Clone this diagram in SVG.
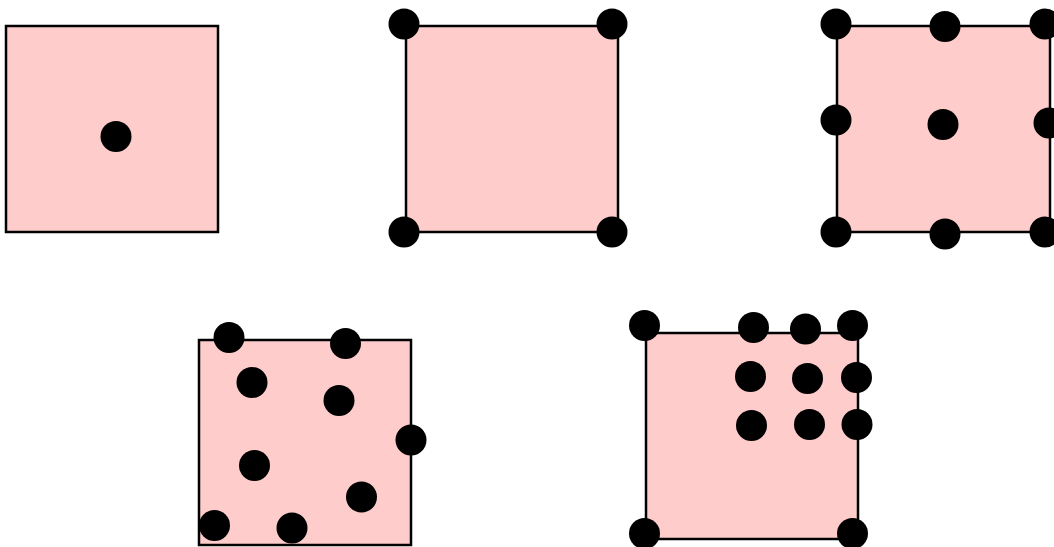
<svg xmlns="http://www.w3.org/2000/svg" width="1054" height="547" viewBox="0 0 1054 547">
<style>
.box{fill:#ffcccc;stroke:#000;stroke-width:2.5}
.pt{fill:#000}
</style>
<rect width="1054" height="547" fill="#fff"/>
<g id="connectors"></g>
<g id="square1">
<rect class="box" x="6" y="26" width="212" height="206"/>
<circle class="pt" cx="116" cy="136.5" r="15.5"/>
</g>
<g id="square2">
<rect class="box" x="406" y="26" width="212" height="206"/>
<circle class="pt" cx="404" cy="24" r="15.5"/>
<circle class="pt" cx="612" cy="24" r="15.5"/>
<circle class="pt" cx="404" cy="232" r="15.5"/>
<circle class="pt" cx="612" cy="232" r="15.5"/>
</g>
<g id="square3">
<rect class="box" x="837" y="26" width="213" height="206"/>
<circle class="pt" cx="836" cy="24" r="15.5"/>
<circle class="pt" cx="945" cy="26.5" r="15.5"/>
<circle class="pt" cx="1045" cy="24" r="15.5"/>
<circle class="pt" cx="836" cy="120" r="15.5"/>
<circle class="pt" cx="943" cy="124.5" r="15.5"/>
<circle class="pt" cx="1049" cy="123" r="15.5"/>
<circle class="pt" cx="836" cy="232" r="15.5"/>
<circle class="pt" cx="945" cy="234" r="15.5"/>
<circle class="pt" cx="1045" cy="232" r="15.5"/>
</g>
<g id="square4">
<rect class="box" x="199" y="340" width="212" height="205"/>
<circle class="pt" cx="229" cy="337.5" r="15.5"/>
<circle class="pt" cx="345.5" cy="343.5" r="15.5"/>
<circle class="pt" cx="252" cy="382.5" r="15.5"/>
<circle class="pt" cx="339" cy="400.5" r="15.5"/>
<circle class="pt" cx="411" cy="440" r="15.5"/>
<circle class="pt" cx="254.5" cy="465.5" r="15.5"/>
<circle class="pt" cx="361.5" cy="497" r="15.5"/>
<circle class="pt" cx="214.5" cy="525.5" r="15.5"/>
<circle class="pt" cx="292" cy="528" r="15.5"/>
</g>
<g id="square5">
<rect class="box" x="646" y="333" width="212" height="206"/>
<circle class="pt" cx="644.5" cy="325.5" r="15.5"/>
<circle class="pt" cx="753.5" cy="327.5" r="15.5"/>
<circle class="pt" cx="805.5" cy="329" r="15.5"/>
<circle class="pt" cx="852.5" cy="325.5" r="15.5"/>
<circle class="pt" cx="750.5" cy="376.5" r="15.5"/>
<circle class="pt" cx="807.5" cy="378.5" r="15.5"/>
<circle class="pt" cx="856.5" cy="377.5" r="15.5"/>
<circle class="pt" cx="751.5" cy="425.5" r="15.5"/>
<circle class="pt" cx="809.5" cy="424.5" r="15.5"/>
<circle class="pt" cx="857" cy="424.5" r="15.5"/>
<circle class="pt" cx="644.5" cy="533.5" r="15.5"/>
<circle class="pt" cx="852.5" cy="533.5" r="15.5"/>
</g>
</svg>
